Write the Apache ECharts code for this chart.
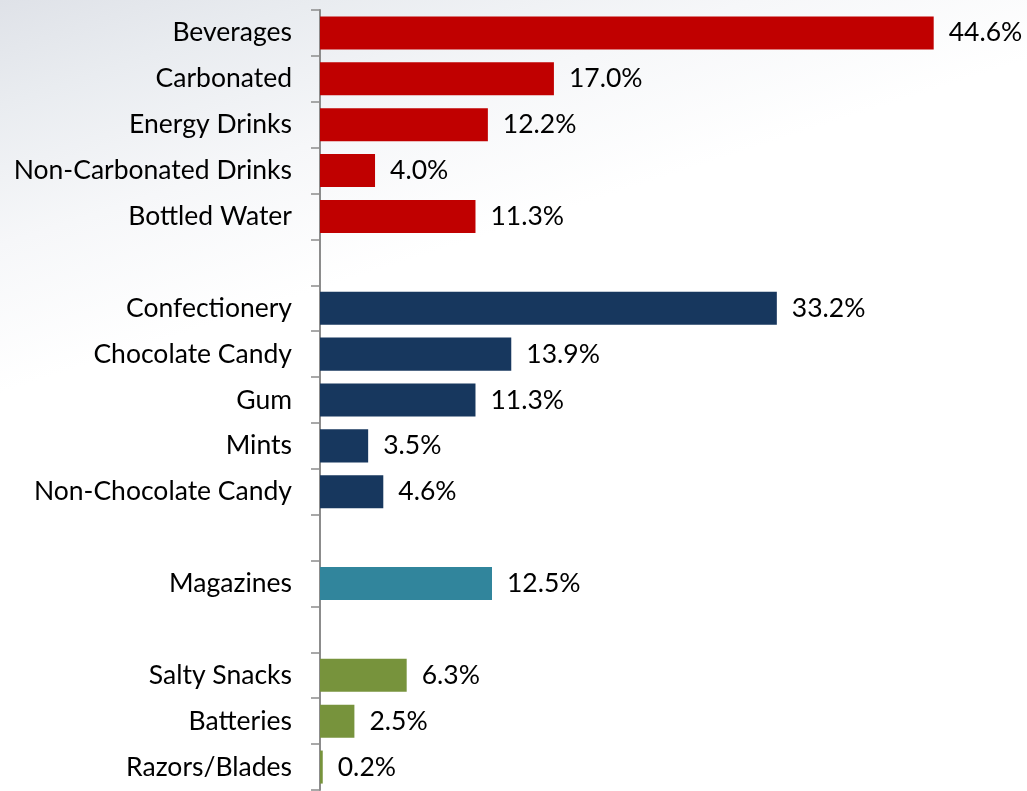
<!DOCTYPE html>
<html>
<head>
<meta charset="utf-8">
<script src="https://cdn.jsdelivr.net/npm/echarts@6/dist/echarts.min.js"></script>
<style>
  html, body { margin: 0; padding: 0; }
  #chart { width: 1027px; height: 791px; }
</style>
</head>
<body>
<div id="chart"></div>
<script>
// Category rows, top to bottom; empty strings are spacer rows between groups
const categories = [
  'Beverages', 'Carbonated', 'Energy Drinks', 'Non-Carbonated Drinks', 'Bottled Water', '',
  'Confectionery', 'Chocolate Candy', 'Gum', 'Mints', 'Non-Chocolate Candy', '',
  'Magazines', '',
  'Salty Snacks', 'Batteries', 'Razors/Blades'
];
// Share of sales (%)
const values = [
  44.6, 17.0, 12.2, 4.0, 11.3, null,
  33.2, 13.9, 11.3, 3.5, 4.6, null,
  12.5, null,
  6.3, 2.5, 0.2
];
// Group of each row
const groups = [
  'bev', 'bev', 'bev', 'bev', 'bev', null,
  'conf', 'conf', 'conf', 'conf', 'conf', null,
  'mag', null,
  'misc', 'misc', 'misc'
];
const groupColors = { bev: '#C00000', conf: '#17375E', mag: '#31859C', misc: '#77933C' };

const FONT = 'Lato, "Open Sans", sans-serif';
const FONT_SIZE = 26.5;

const seriesData = values.map((v, i) => v == null ? '-' : {
  value: v,
  itemStyle: { color: groupColors[groups[i]] }
});

const chart = echarts.init(document.getElementById('chart'), null, { renderer: 'canvas' });
chart.setOption({
  backgroundColor: {
    type: 'linear', x: 0, y: 0, x2: 0.25, y2: 1,
    colorStops: [
      { offset: 0, color: '#dfe2e8' },
      { offset: 0.12, color: '#e9ecf0' },
      { offset: 0.28, color: '#f6f7f9' },
      { offset: 0.45, color: '#ffffff' },
      { offset: 1, color: '#ffffff' }
    ]
  },
  animation: false,
  grid: { left: 320, right: 19, top: 10, bottom: 1, containLabel: false },
  xAxis: {
    type: 'value', min: 0, max: 50,
    show: false
  },
  yAxis: {
    type: 'category',
    data: categories,
    inverse: true,
    axisLine: { show: true, lineStyle: { color: '#8c8c8c', width: 2 } },
    axisTick: { show: true, length: 9, alignWithLabel: false, lineStyle: { color: '#8c8c8c', width: 1.5 } },
    axisLabel: {
      color: '#000', fontFamily: FONT, fontSize: FONT_SIZE, margin: 28,
      padding: [4, 0, 0, 0]
    },
    splitLine: { show: false }
  },
  series: [{
    type: 'bar',
    data: seriesData,
    barCategoryGap: '28%',
    label: {
      show: true,
      position: 'right',
      distance: 15,
      color: '#000',
      fontFamily: FONT,
      fontSize: FONT_SIZE,
      padding: [4, 0, 0, 0],
      formatter: p => p.value.toFixed(1) + '%'
    }
  }]
});
</script>
</body>
</html>
